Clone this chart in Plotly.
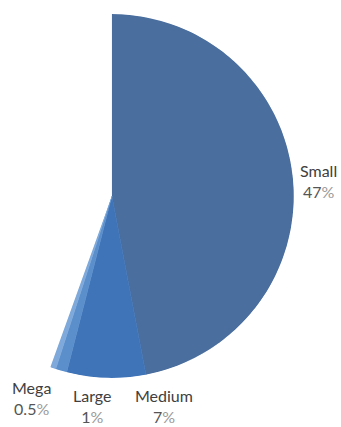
import plotly.graph_objects as go

categories = ["Small", "Medium", "Large", "Mega"]
shares = [47, 7, 1, 0.5]          # percent of total (remaining share not shown)
pct_labels = ["47", "7", "1", "0.5"]
colors = ["#4A6E9E", "#3F74B8", "#5A8FCC", "#7FA9DA"]

# slice geometry derived from the data (degrees clockwise from 12 o'clock)
widths = [v * 3.6 for v in shares]
mids = []
acc = 0.0
for w in widths:
    mids.append(acc + w / 2)
    acc += w

fig = go.Figure()
fig.add_trace(go.Barpolar(
    r=[1] * len(categories),
    theta=mids,
    width=widths,
    base=0,
    marker=dict(color=colors, line=dict(color=colors, width=0.6)),
    text=categories,
    hoverinfo="text",
    showlegend=False,
))

end_angle = 90 - acc  # layout angle (counterclockwise from east)
fig.update_layout(
    width=341, height=427,
    margin=dict(l=0, r=0, t=0, b=0),
    paper_bgcolor="white",
    plot_bgcolor="white",
    polar=dict(
        domain=dict(x=[0.147, 0.862], y=[0.115, 0.967]),
        sector=[end_angle, 90],
        bgcolor="white",
        bargap=0,
        radialaxis=dict(visible=False, range=[0, 1]),
        angularaxis=dict(visible=False, rotation=90, direction="clockwise"),
    ),
    font=dict(family="Lato, 'Open Sans', sans-serif"),
)

label_pos = {
    "Small": (318, 181),
    "Medium": (164, 406),
    "Large": (92, 406),
    "Mega": (31, 398),
}
for cat, p in zip(categories, pct_labels):
    x, y = label_pos[cat]
    fig.add_annotation(
        x=x / 341, y=1 - y / 427, xref="paper", yref="paper",
        xanchor="center", yanchor="middle", showarrow=False,
        text=f"<span style='color:#404040'>{cat}</span><br>"
             f"<span style='color:#555555'>{p}</span><span style='color:#9a9a9a'>%</span>",
        font=dict(size=16, color="#404040"),
        align="center",
    )

fig.write_html(
    "out.html",
    config={"displayModeBar": False},
    post_script="document.body.style.margin='0';document.body.style.overflow='hidden';",
)
